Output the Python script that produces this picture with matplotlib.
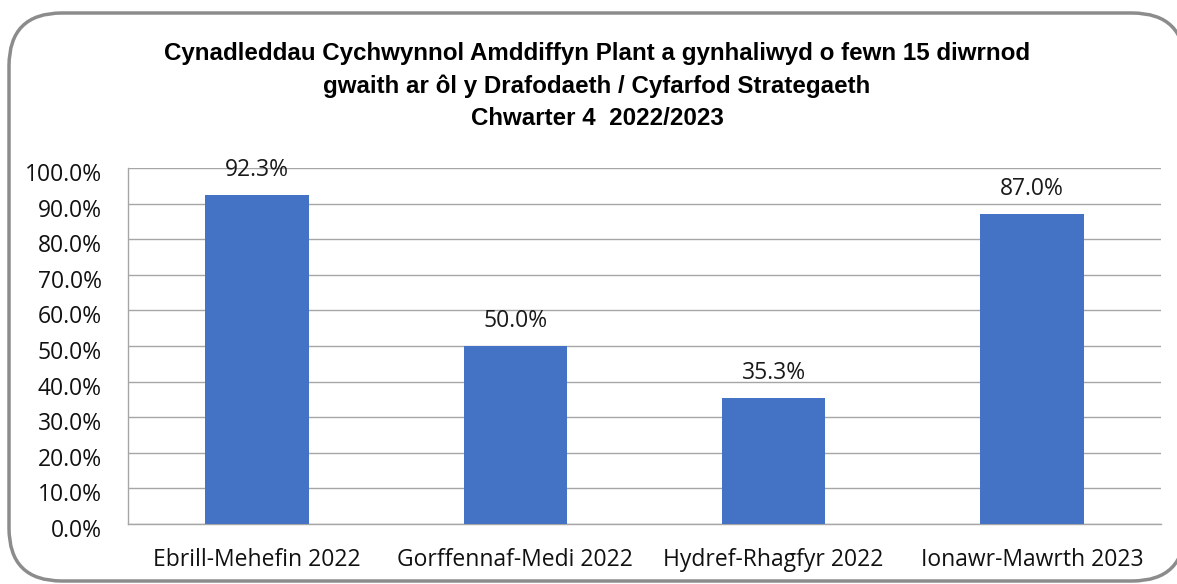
import matplotlib.pyplot as plt
import matplotlib.transforms as mtransforms
from matplotlib.patches import FancyBboxPatch

categories = ['Ebrill-Mehefin 2022', 'Gorffennaf-Medi 2022', 'Hydref-Rhagfyr 2022', 'Ionawr-Mawrth 2023']
values = [92.3, 50.0, 35.3, 87.0]
title = ('Cynadleddau Cychwynnol Amddiffyn Plant a gynhaliwyd o fewn 15 diwrnod\n'
         'gwaith ar ôl y Drafodaeth / Cyfarfod Strategaeth\n'
         'Chwarter 4  2022/2023')

W, H = 1177, 584
fig = plt.figure(figsize=(W / 100, H / 100), dpi=100)

# rounded chart frame
frame = FancyBboxPatch((9 / W, (H - 581) / H), (1185 - 9) / W, (581 - 13) / H,
                       boxstyle='round,pad=0,rounding_size=0.045',
                       transform=fig.transFigure, facecolor='white',
                       edgecolor='#8c8c8c', linewidth=2.5, mutation_aspect=W / H,
                       zorder=-1)
fig.patches.append(frame)

ax = fig.add_axes([128 / W, (H - 524) / H, (1161 - 128) / W, (524 - 168) / H])
ax.set_facecolor('none')
x = range(len(categories))
ax.bar(x, values, width=0.4, color='#4472C4', zorder=3)
for i, v in zip(x, values):
    ax.text(i, v + 7.0, f'{v:.1f}%', ha='center', va='center',
            fontsize=16.5, family='Open Sans', color='#1a1a1a', zorder=4)

ax.set_xlim(-0.5, len(categories) - 0.5)
ax.set_ylim(0, 100)
ax.set_yticks(range(0, 101, 10))
ax.set_yticklabels([f'{t:.1f}%' for t in range(0, 101, 10)])
ax.set_xticks(list(x))
ax.set_xticklabels(categories)
ax.yaxis.grid(True, color='#a6a6a6', linewidth=1, zorder=0)
ax.tick_params(length=0, labelsize=16.5, labelcolor='#111111', pad=19)
ax.tick_params(axis='x', pad=17)
shift = mtransforms.ScaledTranslation(0, -4 / 100, fig.dpi_scale_trans)
for lab in ax.get_yticklabels():
    lab.set_family('Open Sans')
    lab.set_transform(lab.get_transform() + shift)
for lab in ax.get_xticklabels():
    lab.set_family('Open Sans')
for s in ['top', 'right']:
    ax.spines[s].set_visible(False)
for s in ['left', 'bottom']:
    ax.spines[s].set_color('#a6a6a6')
    ax.spines[s].set_linewidth(1)

fig.text(597 / W, 1 - 86 / H, title, ha='center', va='center', fontsize=17.4,
         fontweight='bold', family='Liberation Sans', linespacing=1.5)

fig.savefig('out.png', dpi=100)
